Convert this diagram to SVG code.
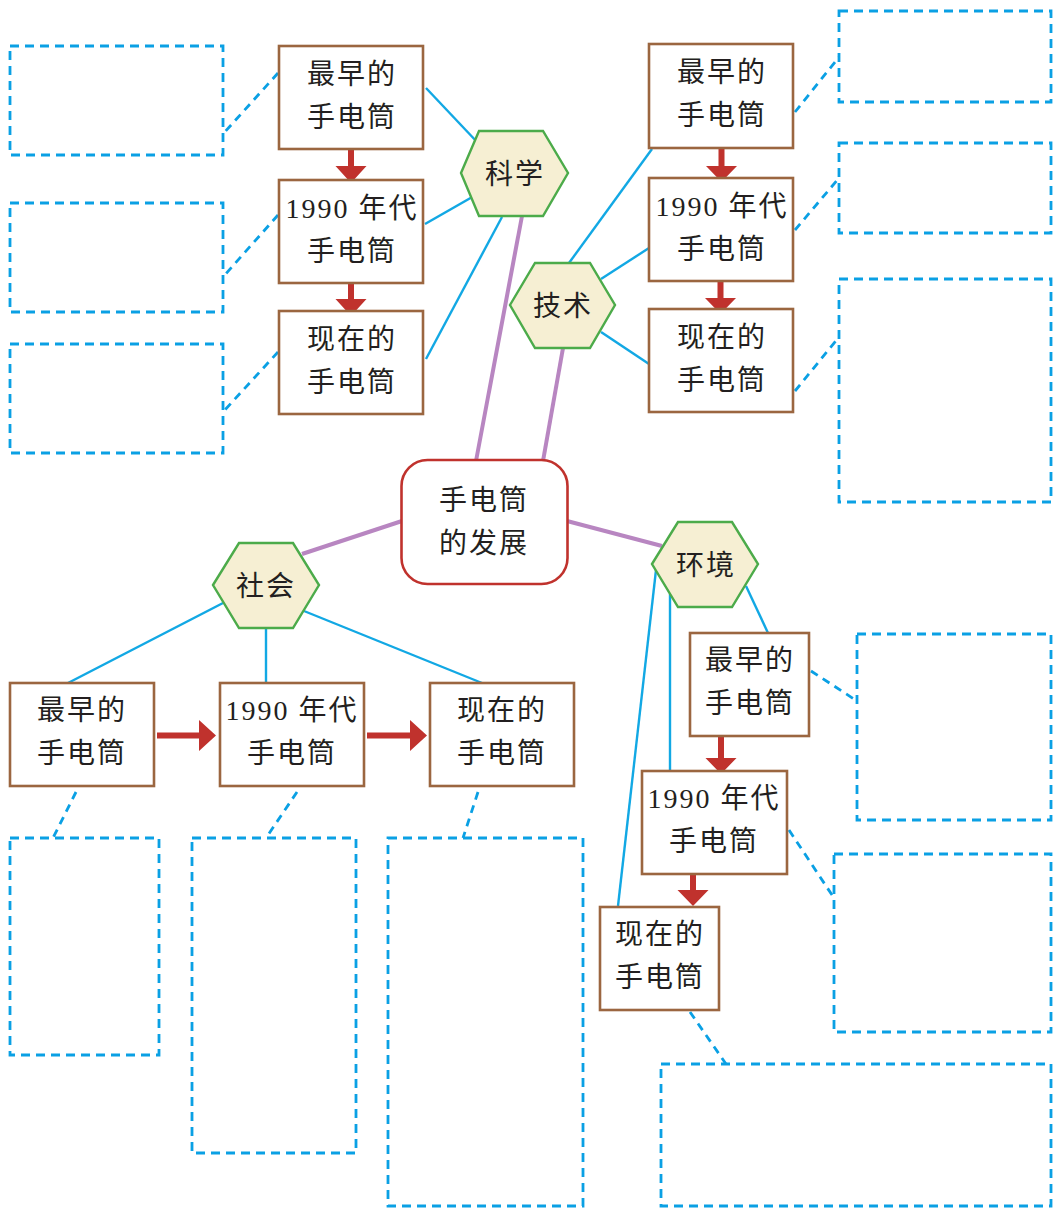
<svg xmlns="http://www.w3.org/2000/svg" width="1053" height="1208" viewBox="0 0 1053 1208">
<style>
.bg{fill:#ffffff}
.box{fill:#ffffff;stroke:#9b6640;stroke-width:2.6}
.hex{fill:#f6efd3;stroke:#4cab4a;stroke-width:2.4}
.center{fill:#ffffff;stroke:#c0322d;stroke-width:2.6}
.note{fill:none;stroke:#0aa0e4;stroke-width:2.8;stroke-dasharray:9 6}
.link{stroke:#12a8e4;stroke-width:2.4;fill:none}
.dlink{stroke:#0aa0e4;stroke-width:2.8;stroke-dasharray:8 6;fill:none}
.trunk{stroke:#b886c1;stroke-width:4;fill:none}
.arrow{fill:#c0322d}
text{font-family:"Liberation Serif","Noto Sans CJK SC",serif;font-size:28px;fill:#231f20;text-anchor:middle;letter-spacing:2px}
</style>
<rect class="bg" x="0" y="0" width="1053" height="1208"/>

<g id="connectors">
  <line class="trunk" x1="522" y1="216" x2="476" y2="461"/>
  <line class="trunk" x1="563" y1="348" x2="543" y2="461"/>
  <line class="trunk" x1="402" y1="521" x2="302" y2="554"/>
  <line class="trunk" x1="567" y1="521" x2="662" y2="546"/>

  <line class="link" x1="426" y1="88" x2="478" y2="143"/>
  <line class="link" x1="425" y1="224" x2="474" y2="196"/>
  <line class="link" x1="426" y1="359" x2="502" y2="217"/>

  <line class="link" x1="569" y1="263" x2="652" y2="149"/>
  <line class="link" x1="601" y1="279" x2="649" y2="248"/>
  <line class="link" x1="601" y1="332" x2="649" y2="364"/>

  <line class="link" x1="223" y1="603" x2="68" y2="683"/>
  <line class="link" x1="266" y1="628" x2="266" y2="683"/>
  <line class="link" x1="304" y1="611" x2="482" y2="683"/>

  <line class="link" x1="746" y1="586" x2="768" y2="633"/>
  <line class="link" x1="670" y1="594" x2="670" y2="770"/>
  <line class="link" x1="656" y1="570" x2="618" y2="906"/>

  <line class="dlink" x1="278" y1="73" x2="223" y2="134"/>
  <line class="dlink" x1="278" y1="215" x2="223" y2="277"/>
  <line class="dlink" x1="278" y1="352" x2="223" y2="412"/>
  <line class="dlink" x1="795" y1="112" x2="839" y2="57"/>
  <line class="dlink" x1="795" y1="230" x2="839" y2="178"/>
  <line class="dlink" x1="795" y1="391" x2="839" y2="337"/>
  <line class="dlink" x1="76" y1="792" x2="53" y2="838"/>
  <line class="dlink" x1="297" y1="792" x2="266" y2="838"/>
  <line class="dlink" x1="478" y1="792" x2="463" y2="838"/>
  <line class="dlink" x1="811" y1="671" x2="857" y2="701"/>
  <line class="dlink" x1="789" y1="830" x2="834" y2="898"/>
  <line class="dlink" x1="690" y1="1012" x2="726" y2="1064"/>

  <polygon class="arrow" points="348,149 354,149 354,166 366.5,166 351,183 335.5,166 348,166"/>
  <polygon class="arrow" points="348,283 354,283 354,299 366.5,299 351,316 335.5,299 348,299"/>
  <polygon class="arrow" points="718.5,148 724.5,148 724.5,166 737,166 721.5,182 706,166 718.5,166"/>
  <polygon class="arrow" points="717.5,281 723.5,281 723.5,298 736,298 720.5,314 705,298 717.5,298"/>
  <polygon class="arrow" points="718,736 724,736 724,758 736.5,758 721,774 705.5,758 718,758"/>
  <polygon class="arrow" points="690,874 696,874 696,890 708.5,890 693,906 677.5,890 690,890"/>
  <polygon class="arrow" points="157,732.5 199,732.5 199,720 216,735.5 199,751 199,738.5 157,738.5"/>
  <polygon class="arrow" points="367,732.5 410,732.5 410,720 427,735.5 410,751 410,738.5 367,738.5"/>
</g>

<g id="notes">
  <rect class="note" x="10" y="46" width="213" height="109"/>
  <rect class="note" x="10" y="203" width="213" height="109"/>
  <rect class="note" x="10" y="344" width="213" height="109"/>
  <rect class="note" x="839" y="11" width="212" height="91"/>
  <rect class="note" x="839" y="143" width="212" height="90"/>
  <rect class="note" x="839" y="279" width="212" height="223"/>
  <rect class="note" x="10" y="838" width="149" height="217"/>
  <rect class="note" x="192" y="838" width="164" height="315"/>
  <rect class="note" x="388" y="838" width="195" height="368"/>
  <rect class="note" x="857" y="634" width="194" height="186"/>
  <rect class="note" x="834" y="854" width="217" height="178"/>
  <rect class="note" x="661" y="1064" width="390" height="142"/>
</g>

<g id="center">
  <rect class="center" x="401.5" y="460" width="166" height="124" rx="26" ry="26"/>
  <text x="484" y="510">手电筒</text>
  <text x="484" y="553">的发展</text>
</g>

<g id="hex-science">
  <polygon class="hex" points="461,173 479,131 543,131 568,173 543,216 479,216"/>
  <text x="515" y="184">科学</text>
</g>
<g id="hex-tech">
  <polygon class="hex" points="510,305 535,263 590,263 615,305 590,348 535,348"/>
  <text x="563" y="316">技术</text>
</g>
<g id="hex-society">
  <polygon class="hex" points="213,585 239,543 293,543 319,585 293,628 239,628"/>
  <text x="266" y="596">社会</text>
</g>
<g id="hex-env">
  <polygon class="hex" points="652,564 678,522 732,522 758,564 732,607 678,607"/>
  <text x="706" y="575">环境</text>
</g>

<g id="sci-1">
  <rect class="box" x="279" y="46" width="144" height="103"/>
  <text x="352" y="84">最早的</text>
  <text x="352" y="127">手电筒</text>
</g>
<g id="sci-2">
  <rect class="box" x="279" y="180" width="144" height="103"/>
  <text x="352" y="218">1990 年代</text>
  <text x="352" y="261">手电筒</text>
</g>
<g id="sci-3">
  <rect class="box" x="279" y="311" width="144" height="103"/>
  <text x="352" y="349">现在的</text>
  <text x="352" y="392">手电筒</text>
</g>

<g id="tech-1">
  <rect class="box" x="649" y="44" width="144" height="104"/>
  <text x="722" y="82">最早的</text>
  <text x="722" y="125">手电筒</text>
</g>
<g id="tech-2">
  <rect class="box" x="649" y="178" width="144" height="103"/>
  <text x="722" y="216">1990 年代</text>
  <text x="722" y="259">手电筒</text>
</g>
<g id="tech-3">
  <rect class="box" x="649" y="309" width="144" height="103"/>
  <text x="722" y="347">现在的</text>
  <text x="722" y="390">手电筒</text>
</g>

<g id="soc-1">
  <rect class="box" x="10" y="683" width="144" height="103"/>
  <text x="82" y="720">最早的</text>
  <text x="82" y="763">手电筒</text>
</g>
<g id="soc-2">
  <rect class="box" x="220" y="683" width="144" height="103"/>
  <text x="292" y="720">1990 年代</text>
  <text x="292" y="763">手电筒</text>
</g>
<g id="soc-3">
  <rect class="box" x="430" y="683" width="144" height="103"/>
  <text x="502" y="720">现在的</text>
  <text x="502" y="763">手电筒</text>
</g>

<g id="env-1">
  <rect class="box" x="690" y="633" width="119" height="103"/>
  <text x="750" y="670">最早的</text>
  <text x="750" y="713">手电筒</text>
</g>
<g id="env-2">
  <rect class="box" x="642" y="771" width="145" height="103"/>
  <text x="714" y="808">1990 年代</text>
  <text x="714" y="851">手电筒</text>
</g>
<g id="env-3">
  <rect class="box" x="600" y="907" width="119" height="103"/>
  <text x="660" y="944">现在的</text>
  <text x="660" y="987">手电筒</text>
</g>
</svg>
